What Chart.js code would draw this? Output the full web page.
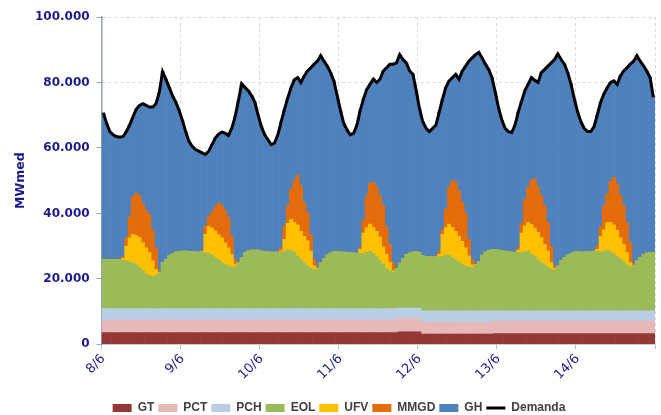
<!DOCTYPE html>
<html>
<head>
<meta charset="utf-8">
<script src="https://cdn.jsdelivr.net/npm/chart.js@4.4.1/dist/chart.umd.min.js"></script>
<style>
  html, body { margin: 0; padding: 0; background: #fff; }
  #wrap { width: 661px; height: 415px; position: relative; }
</style>
</head>
<body>
<div id="wrap"><canvas id="myChart"></canvas></div>
<script>
// Dias (cada dia tem 24 horas)
const dias = ['8/6', '9/6', '10/6', '11/6', '12/6', '13/6', '14/6'];
const yTicks = [0, 20000, 40000, 60000, 80000, 100000];

// Geração por fonte, MWmed por hora
const gt = [
  3600,3600,3600,3600,3600,3600,3600,3600,3600,3600,3600,3600,3600,3600,3600,3600,3600,3600,3600,3600,3600,3600,3600,3600,
  3600,3600,3600,3600,3600,3600,3600,3600,3600,3600,3600,3600,3600,3600,3600,3600,3600,3600,3600,3600,3600,3600,3600,3600,
  3600,3600,3600,3600,3600,3600,3600,3600,3600,3600,3600,3600,3600,3600,3600,3600,3600,3600,3600,3600,3600,3600,3600,3600,
  3600,3600,3600,3600,3600,3600,3600,3600,3600,3600,3600,3600,3600,3600,3600,3600,3600,3600,3800,3800,3800,3800,3800,3800,
  3800,3100,3100,3100,3100,3100,3100,3100,3100,3100,3100,3100,3100,3100,3100,3100,3100,3100,3100,3100,3100,3100,3100,3300,
  3300,3300,3300,3300,3300,3300,3300,3300,3300,3300,3300,3300,3300,3300,3300,3300,3300,3300,3300,3300,3300,3300,3300,3300,
  3300,3300,3300,3300,3300,3300,3300,3300,3300,3300,3300,3300,3300,3300,3300,3300,3300,3300,3300,3300,3300,3300,3300,3300
];
const pct = [
  3800,3800,3800,3800,3800,3800,3800,3800,3800,3800,3800,3800,3800,3800,3800,3800,3800,3800,3800,3800,3800,3800,3800,3800,
  3800,3800,3800,3800,3800,3800,3800,3800,3800,3800,3800,3800,3800,3800,3800,3800,3800,3800,3800,3800,3800,3800,3800,3800,
  3800,3800,3800,3800,3800,3800,3800,3800,3800,3800,3800,3800,3800,3800,3800,3800,3800,3800,3800,3800,3800,3800,3800,3800,
  3800,3800,3800,3800,3800,3800,3800,3800,3800,3800,3800,3800,3800,3800,3800,3800,3800,3800,4100,4100,4100,4100,4100,4100,
  4100,3600,3600,3600,3600,3600,3600,3600,3600,3600,3600,3600,3600,3600,3600,3600,3600,3600,3600,3600,3600,3600,3600,3900,
  3900,3900,3900,3900,3900,3900,3900,3900,3900,3900,3900,3900,3900,3900,3900,3900,3900,3900,3900,3900,3900,3900,3900,3900,
  3900,3900,3900,3900,3900,3900,3900,3900,3900,3900,3900,3900,3900,3900,3900,3900,3900,3900,3900,3900,3900,3900,3900,3900
];
const pch = [
  3500,3500,3500,3500,3500,3500,3500,3500,3500,3500,3500,3500,3500,3500,3500,3500,3500,3500,3500,3500,3500,3500,3500,3500,
  3500,3500,3500,3500,3500,3500,3500,3500,3500,3500,3500,3500,3500,3500,3500,3500,3500,3500,3500,3500,3500,3500,3500,3500,
  3500,3500,3500,3500,3500,3500,3500,3500,3500,3500,3500,3500,3500,3500,3500,3500,3500,3500,3500,3500,3500,3500,3500,3500,
  3500,3500,3500,3500,3500,3500,3500,3500,3500,3500,3500,3500,3500,3500,3500,3500,3500,3500,3200,3200,3200,3200,3200,3200,
  3200,3500,3500,3500,3500,3500,3500,3500,3500,3500,3500,3500,3500,3500,3500,3500,3500,3500,3500,3500,3500,3500,3500,3000,
  3000,3000,3000,3000,3000,3000,3000,3000,3000,3000,3000,3000,3000,3000,3000,3000,3000,3000,3000,3000,3000,3000,3000,3000,
  3000,3000,3000,3000,3000,3000,3000,3000,3000,3000,3000,3000,3000,3000,3000,3000,3000,3000,3000,3000,3000,3000,3000,3000
];
const eol = [
  15000,15000,15000,15000,15000,14900,14800,14600,14300,14100,13400,12600,11600,10600,10100,9700,10100,10900,14000,15100,16100,16700,17300,17500,
  17600,17600,17500,17400,17400,17300,17200,17100,16900,16400,15600,14900,14100,13500,13000,12800,12800,14100,15600,17100,17600,17900,17900,17900,
  17600,17500,17400,17300,17300,17300,17300,17500,17900,17900,17300,16100,15000,14100,13100,12400,11800,12100,14000,15400,16400,17000,17400,17400,
  17300,17300,17200,17100,17000,16900,16900,16900,17300,17600,16900,15900,14600,13600,12400,11600,11100,12300,13700,15100,16300,16800,17100,17300,
  16900,17000,16700,16500,16500,16500,16500,16600,17100,17100,16300,15600,14900,14300,13700,13400,13200,14000,15000,17100,18000,18500,18700,18800,
  18600,18400,18300,18100,18000,17900,17800,17800,18100,18300,17300,16600,15600,14800,14100,13400,12800,12500,13700,15300,16300,17100,17600,18000,
  18100,18000,18000,18100,18200,18300,18200,18000,18300,18600,18100,17400,16600,15800,15100,14100,13500,13600,15300,16300,17300,17700,17800,17800
];
const ufv = [
  0,0,0,0,0,0,600,4500,7300,8600,8900,9100,8500,8000,7000,4900,1800,200,0,0,0,0,0,0,
  0,0,0,0,0,0,200,5600,8200,8200,8200,7700,7500,6600,5600,3800,800,0,0,0,0,0,0,0,
  0,0,0,0,0,0,400,3700,8200,9300,9100,9500,8600,8000,7600,5200,1300,300,0,0,0,0,0,0,
  0,0,0,0,0,0,1200,6200,7500,8200,7900,7700,7300,5300,4200,2500,500,0,0,0,0,0,0,0,
  0,0,0,0,0,0,800,6800,8400,9400,9200,8700,7900,7000,5600,3400,900,200,0,0,0,0,0,0,
  0,0,0,0,0,0,800,6000,7900,8800,9100,8700,8400,7600,6200,4900,2000,500,0,0,0,0,0,0,
  0,0,0,0,0,0,600,4800,6500,8400,9000,8900,8000,6500,5200,3700,1300,200,0,0,0,0,0,0
];
const mmgd = [
  0,0,0,0,0,0,500,2500,6500,11400,13100,12900,12000,11500,11800,9500,6700,500,0,0,0,0,0,0,
  0,0,0,0,0,0,200,2600,3000,5000,7300,9700,10000,10000,9300,5600,1500,0,0,0,0,0,0,0,
  0,0,0,0,0,0,900,4100,5400,9400,12800,15200,14100,10400,8700,5100,2000,300,0,0,0,0,0,0,
  0,0,0,0,0,0,500,4000,9800,12400,13900,13600,12700,12600,8500,5500,2500,0,0,0,0,0,0,0,
  0,0,0,0,0,0,1000,1400,5700,11400,14400,15100,14000,11900,10800,5100,1600,200,0,0,0,0,0,0,
  0,0,0,0,0,0,700,3000,8200,10800,13500,15100,13900,12900,11900,8800,5000,800,0,0,0,0,0,0,
  0,0,0,0,0,0,1000,3000,7400,8800,12500,14600,14300,13000,11900,9300,6100,500,0,0,0,0,0,0
];
const gh = [
  44800,41600,39100,38100,37600,37500,36700,32500,28000,24500,25500,27500,30500,32000,32700,37500,44000,54500,58400,55000,51500,48400,45800,43100,
  40000,36500,33600,32200,31200,30800,30000,21800,20000,20500,21000,21000,22300,23500,25000,32900,43500,49300,53100,50500,49000,47200,45200,41200,
  38000,35600,34200,32800,33300,35800,38500,35600,32900,30900,30700,29800,31400,38600,43200,50900,59600,62900,63300,60200,57700,55100,52200,47700,
  43300,39300,37400,36000,36600,39200,42000,37000,32400,30400,31400,31900,35500,41100,48500,55100,60600,62800,63700,60800,58600,55600,54300,49100,
  44000,40800,39100,38300,39300,40300,42500,40000,37100,32400,31400,32900,34000,40100,44700,54400,61600,63900,64000,60200,57400,55300,52600,48000,
  43400,39900,37500,36700,36500,38900,41500,37300,33100,31400,31400,30100,31900,37500,41600,47700,56000,63000,64800,61500,59100,55700,51700,46800,
  42700,39800,37800,36700,36600,38000,40200,38000,34100,32400,30200,29400,30300,36500,41100,47200,54500,62000,62700,60000,57600,55600,53500,47500
];
const demanda = [
  70700,67500,65000,64000,63500,63300,63500,65000,67000,69500,71800,73000,73500,73000,72500,72500,73500,77000,83300,81000,78500,76000,74000,71500,
  68500,65000,62000,60500,59500,59000,58500,58000,59000,61000,63000,64200,64800,64500,63800,66000,69500,74300,79600,78500,77500,76000,74000,70000,
  66500,64000,62500,61000,61500,64000,68000,71800,75300,78400,80800,81500,80000,82000,83500,84500,85600,86500,88200,86500,85000,83000,80500,76000,
  71500,67500,65500,64000,64500,67000,71500,75000,77900,79500,81000,80000,81000,83500,84500,85600,85600,86000,88500,87000,86000,83500,82500,77500,
  72000,68000,66000,65000,66000,67000,71000,75000,78500,80500,81500,82500,81000,83500,85000,86500,87500,88500,89200,87500,85600,84000,81500,77000,
  72200,68500,66000,65000,64700,67000,71000,74300,77500,79500,81500,80700,80000,83000,84000,85000,86000,87000,88700,87000,85600,83000,79500,75000,
  71000,68000,66000,65000,65000,66500,70200,74000,76500,78400,80000,80500,79400,82000,83500,84500,85600,86500,88200,86500,85100,83500,81500,75500
];

// Rótulos horários
const labels = [];
dias.forEach(d => {
    for (let h = 0; h < 24; h++) labels.push(d + ' ' + h + 'h');
});

const azul = '#1a1a8e';
const fmt = v => String(v).replace(/\B(?=(\d{3})+(?!\d))/g, '.');
const diaCor = (ctx, cor) => (ctx.index === undefined || ctx.index % 24 === 0) ? cor : 'transparent';

function barra(label, data, cor) {
    return {
        label: label,
        data: data,
        backgroundColor: cor,
        borderWidth: 0,
        barPercentage: 1,
        categoryPercentage: 1,
        stack: 'geracao',
        order: 1
    };
}

// Empurra a legenda um pouco para a direita, como no original
const ajusteLegenda = {
    id: 'ajusteLegenda',
    afterLayout(chart) {
        chart.legend.left += 5;
        chart.legend.right += 5;
    }
};

const ctx = document.getElementById('myChart').getContext('2d');
new Chart(ctx, {
    type: 'bar',
    plugins: [ajusteLegenda],
    data: {
        labels: labels,
        datasets: [
            barra('GT', gt, '#953735'),
            barra('PCT', pct, '#e6b9b8'),
            barra('PCH', pch, '#b9cde5'),
            barra('EOL', eol, '#9bbb59'),
            barra('UFV', ufv, '#ffc000'),
            barra('MMGD', mmgd, '#e46c0a'),
            barra('GH', gh, '#4f81bd'),
            {
                type: 'line',
                label: 'Demanda',
                data: demanda,
                borderColor: '#000000',
                backgroundColor: '#000000',
                borderWidth: 3,
                pointRadius: 0,
                tension: 0,
                fill: false,
                stack: 'demanda',
                order: 0
            }
        ]
    },
    options: {
        responsive: true,
        maintainAspectRatio: false,
        animation: false,
        layout: { padding: { left: 13, right: 6, top: 17, bottom: -9 } },
        plugins: {
            tooltip: { enabled: false },
            legend: {
                position: 'bottom',
                labels: {
                    usePointStyle: true,
                    pointStyleWidth: 19,
                    boxHeight: 8,
                    padding: 4,
                    color: '#404040',
                    font: { family: 'Liberation Sans', weight: 'bold', size: 12 },
                    sort: (a, b) => a.datasetIndex - b.datasetIndex,
                    generateLabels: chart => {
                        const items = Chart.defaults.plugins.legend.labels.generateLabels(chart);
                        items.forEach(it => { it.pointStyle = it.datasetIndex === 7 ? 'line' : 'rect'; });
                        return items;
                    }
                }
            }
        },
        scales: {
            x: {
                stacked: true,
                offset: true,
                afterFit: axis => {
                    axis.height += 13;
                    axis.paddingRight = 0;
                },
                grid: {
                    offset: true,
                    color: c => diaCor(c, '#d9d9d9'),
                    tickColor: c => diaCor(c, '#bfbfbf'),
                    tickLength: 5
                },
                border: { color: '#d9d9d9', dash: [3, 3] },
                ticks: {
                    autoSkip: false,
                    maxRotation: 45,
                    minRotation: 45,
                    padding: 2,
                    color: azul,
                    font: { family: 'DejaVu Sans', size: 13 },
                    callback: (v, i) => i % 24 === 0 ? dias[i / 24] : ''
                }
            },
            y: {
                stacked: true,
                min: 0,
                max: 100000,
                afterBuildTicks: axis => { axis.ticks = yTicks.map(v => ({ value: v })); },
                ticks: {
                    color: azul,
                    padding: 7,
                    font: { family: 'DejaVu Sans', weight: 'bold', size: 12 },
                    callback: v => fmt(v)
                },
                grid: { color: '#d9d9d9', tickColor: '#8ea3c1', tickLength: 5 },
                border: { color: '#8ea3c1', width: 1.5, dash: [3, 3] },
                title: {
                    display: true,
                    text: 'MWmed',
                    color: azul,
                    font: { family: 'DejaVu Sans', weight: 'bold', size: 12.5 },
                    padding: { top: 0, bottom: 0 }
                }
            }
        }
    }
});
</script>
</body>
</html>
